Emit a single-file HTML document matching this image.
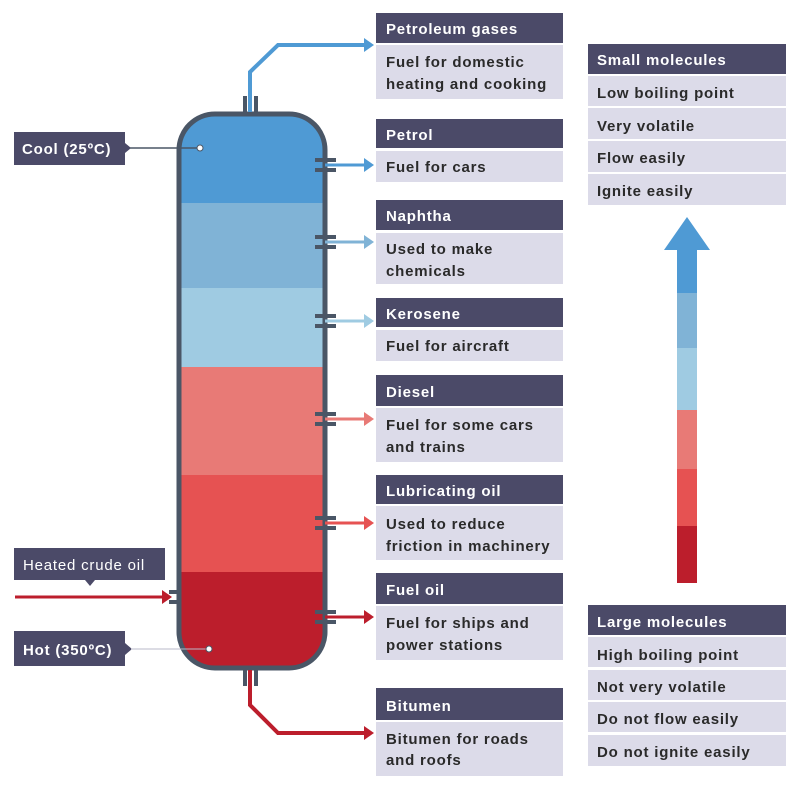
<!DOCTYPE html>
<html><head><meta charset="utf-8"><style>
body{margin:0;background:#fff;}
svg text{font-family:"Liberation Sans",sans-serif;font-weight:bold;font-size:15px;letter-spacing:0.8px;}
.h{fill:#4b4a68}.b{fill:#dcdbe9}.ht{fill:#fff}.bt{fill:#2a2a2a}
</style></head><body>
<svg width="800" height="792" viewBox="0 0 800 792" xmlns="http://www.w3.org/2000/svg">
<defs>
<clipPath id="col"><rect x="179" y="114" width="146" height="554" rx="36"/></clipPath>
</defs>
<g clip-path="url(#col)">
<rect x="170" y="110" width="160" height="93" fill="#4f9ad4"/>
<rect x="170" y="203" width="160" height="85" fill="#80b3d6"/>
<rect x="170" y="288" width="160" height="79" fill="#9fcbe2"/>
<rect x="170" y="367" width="160" height="108" fill="#e87a76"/>
<rect x="170" y="475" width="160" height="97" fill="#e65252"/>
<rect x="170" y="572" width="160" height="100" fill="#bc1e2c"/>
</g>
<rect x="179" y="114" width="146" height="554" rx="36" fill="none" stroke="#4a5666" stroke-width="5"/>
<rect x="243" y="96" width="4" height="18" fill="#4a5666"/><rect x="254" y="96" width="4" height="18" fill="#4a5666"/>
<polyline points="250,112 250,72 278,45 366,45" fill="none" stroke="#4f9ad4" stroke-width="4"/>
<polygon points="374,45 364,38 364,52" fill="#4f9ad4"/>
<rect x="243" y="668" width="4" height="18" fill="#4a5666"/><rect x="254" y="668" width="4" height="18" fill="#4a5666"/>
<polyline points="250,670 250,705 278,733 366,733" fill="none" stroke="#bc1e2c" stroke-width="4"/>
<polygon points="374,733 364,726 364,740" fill="#bc1e2c"/>
<g>
<rect x="315" y="158" width="21" height="4" fill="#4a5666"/><rect x="315" y="168" width="21" height="4" fill="#4a5666"/>
<line x1="325" y1="165" x2="366" y2="165" stroke="#4f9ad4" stroke-width="3"/><polygon points="374,165 364,158 364,172" fill="#4f9ad4"/>
<rect x="315" y="235" width="21" height="4" fill="#4a5666"/><rect x="315" y="245" width="21" height="4" fill="#4a5666"/>
<line x1="325" y1="242" x2="366" y2="242" stroke="#80b3d6" stroke-width="3"/><polygon points="374,242 364,235 364,249" fill="#80b3d6"/>
<rect x="315" y="314" width="21" height="4" fill="#4a5666"/><rect x="315" y="324" width="21" height="4" fill="#4a5666"/>
<line x1="325" y1="321" x2="366" y2="321" stroke="#9fcbe2" stroke-width="3"/><polygon points="374,321 364,314 364,328" fill="#9fcbe2"/>
<rect x="315" y="412" width="21" height="4" fill="#4a5666"/><rect x="315" y="422" width="21" height="4" fill="#4a5666"/>
<line x1="325" y1="419" x2="366" y2="419" stroke="#e87a76" stroke-width="3"/><polygon points="374,419 364,412 364,426" fill="#e87a76"/>
<rect x="315" y="516" width="21" height="4" fill="#4a5666"/><rect x="315" y="526" width="21" height="4" fill="#4a5666"/>
<line x1="325" y1="523" x2="366" y2="523" stroke="#e65252" stroke-width="3"/><polygon points="374,523 364,516 364,530" fill="#e65252"/>
<rect x="315" y="610" width="21" height="4" fill="#4a5666"/><rect x="315" y="620" width="21" height="4" fill="#4a5666"/>
<line x1="325" y1="617" x2="366" y2="617" stroke="#bc1e2c" stroke-width="3"/><polygon points="374,617 364,610 364,624" fill="#bc1e2c"/>
</g>
<rect x="169" y="590" width="12" height="4" fill="#4a5666"/><rect x="169" y="600" width="12" height="4" fill="#4a5666"/>
<line x1="15" y1="597" x2="162" y2="597" stroke="#bc1e2c" stroke-width="3"/><polygon points="172,597 162,590 162,604" fill="#bc1e2c"/>
<rect x="14" y="132" width="111" height="33" class="h"/><polygon points="125,143 131,148 125,153" class="h"/>
<line x1="130" y1="148" x2="200" y2="148" stroke="#4a5666" stroke-width="1.5"/><circle cx="200" cy="148" r="3" fill="#fff" stroke="#4a5666"/>
<text x="22" y="154" class="ht">Cool (25ºC)</text>
<rect x="14" y="548" width="151" height="32" class="h"/><polygon points="85,580 90,586 95,580" class="h"/>
<text x="23" y="570" class="ht" style="font-weight:normal">Heated crude oil</text>
<rect x="14" y="631" width="111" height="35" class="h"/><polygon points="125,643 132,649 125,655" class="h"/>
<line x1="131" y1="649" x2="209" y2="649" stroke="#b8b8c8" stroke-width="1"/><circle cx="209" cy="649" r="3" fill="#fff" stroke="#4a5666"/>
<text x="23" y="655" class="ht">Hot (350ºC)</text>
<g>
<rect x="376" y="13" width="187" height="30" class="h"/><text x="386" y="34" class="ht">Petroleum gases</text>
<rect x="376" y="45" width="187" height="54" class="b"/><text x="386" y="67" class="bt">Fuel for domestic</text><text x="386" y="89" class="bt">heating and cooking</text>
<rect x="376" y="119" width="187" height="29" class="h"/><text x="386" y="140" class="ht">Petrol</text>
<rect x="376" y="151" width="187" height="31" class="b"/><text x="386" y="172" class="bt">Fuel for cars</text>
<rect x="376" y="200" width="187" height="30" class="h"/><text x="386" y="221" class="ht">Naphtha</text>
<rect x="376" y="233" width="187" height="51" class="b"/><text x="386" y="254" class="bt">Used to make</text><text x="386" y="276" class="bt">chemicals</text>
<rect x="376" y="298" width="187" height="29" class="h"/><text x="386" y="319" class="ht">Kerosene</text>
<rect x="376" y="330" width="187" height="31" class="b"/><text x="386" y="351" class="bt">Fuel for aircraft</text>
<rect x="376" y="375" width="187" height="31" class="h"/><text x="386" y="397" class="ht">Diesel</text>
<rect x="376" y="408" width="187" height="54" class="b"/><text x="386" y="430" class="bt">Fuel for some cars</text><text x="386" y="452" class="bt">and trains</text>
<rect x="376" y="475" width="187" height="29" class="h"/><text x="386" y="496" class="ht">Lubricating oil</text>
<rect x="376" y="506" width="187" height="54" class="b"/><text x="386" y="529" class="bt">Used to reduce</text><text x="386" y="551" class="bt">friction in machinery</text>
<rect x="376" y="573" width="187" height="31" class="h"/><text x="386" y="595" class="ht">Fuel oil</text>
<rect x="376" y="606" width="187" height="54" class="b"/><text x="386" y="628" class="bt">Fuel for ships and</text><text x="386" y="650" class="bt">power stations</text>
<rect x="376" y="688" width="187" height="32" class="h"/><text x="386" y="711" class="ht">Bitumen</text>
<rect x="376" y="722" width="187" height="54" class="b"/><text x="386" y="744" class="bt">Bitumen for roads</text><text x="386" y="765" class="bt">and roofs</text>
</g>
<g>
<rect x="588" y="44" width="198" height="30" class="h"/><text x="597" y="65" class="ht">Small molecules</text>
<rect x="588" y="76" width="198" height="30" class="b"/><text x="597" y="98" class="bt">Low boiling point</text>
<rect x="588" y="108" width="198" height="31" class="b"/><text x="597" y="131" class="bt">Very volatile</text>
<rect x="588" y="141" width="198" height="31" class="b"/><text x="597" y="163" class="bt">Flow easily</text>
<rect x="588" y="174" width="198" height="31" class="b"/><text x="597" y="196" class="bt">Ignite easily</text>
<rect x="588" y="605" width="198" height="30" class="h"/><text x="597" y="627" class="ht">Large molecules</text>
<rect x="588" y="637" width="198" height="30" class="b"/><text x="597" y="660" class="bt">High boiling point</text>
<rect x="588" y="670" width="198" height="30" class="b"/><text x="597" y="692" class="bt">Not very volatile</text>
<rect x="588" y="702" width="198" height="30" class="b"/><text x="597" y="724" class="bt">Do not flow easily</text>
<rect x="588" y="735" width="198" height="31" class="b"/><text x="597" y="757" class="bt">Do not ignite easily</text>
</g>
<polygon points="687,217 710,250 664,250" fill="#4f9ad4"/>
<rect x="677" y="249" width="20" height="44" fill="#4f9ad4"/>
<rect x="677" y="293" width="20" height="55" fill="#80b3d6"/>
<rect x="677" y="348" width="20" height="62" fill="#9fcbe2"/>
<rect x="677" y="410" width="20" height="59" fill="#e87a76"/>
<rect x="677" y="469" width="20" height="57" fill="#e65252"/>
<rect x="677" y="526" width="20" height="57" fill="#bc1e2c"/>
</svg>
</body></html>
